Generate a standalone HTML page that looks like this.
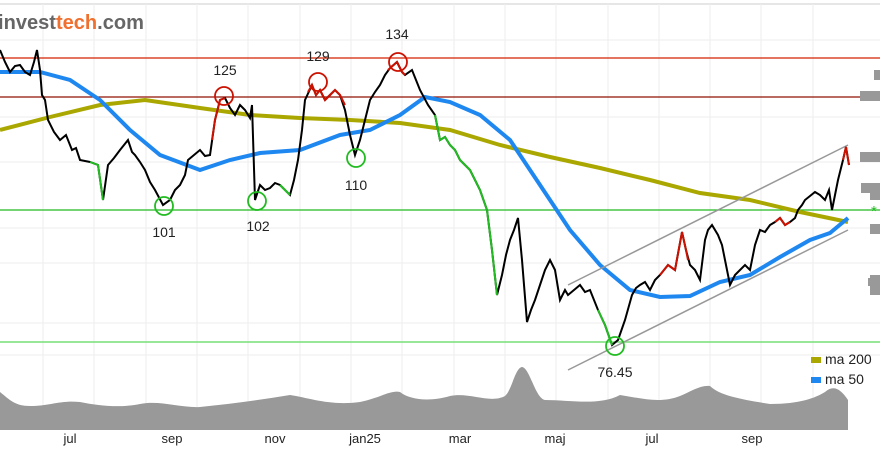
<!DOCTYPE html><html><head><style>body{margin:0;background:#fff}svg{display:block;font-family:"Liberation Sans",sans-serif}</style></head><body>
<svg width="880" height="453" viewBox="0 0 880 453">
<rect width="880" height="453" fill="#fff"/>
<line x1="0" y1="4" x2="880" y2="4" stroke="#ccc"/>
<g stroke="#eee" stroke-width="1">
<path d="M43 4V430M94 4V430M146 4V430M197 4V430M248 4V430M300 4V430M351 4V430M402 4V430M454 4V430M505 4V430M556 4V430M608 4V430M659 4V430M710 4V430M761 4V430M813 4V430"/>
<path d="M0 40H880M0 117H880M0 162H880M0 228H880M0 263H880M0 323H880M0 355H880"/>
</g>
<text x="-2" y="29" font-size="20" font-weight="bold" fill="#666" textLength="146" lengthAdjust="spacingAndGlyphs">invest<tspan fill="#f07030">tech</tspan>.com</text>
<line x1="0" y1="58" x2="880" y2="58" stroke="#d42000" stroke-width="1.2"/>
<line x1="0" y1="97" x2="880" y2="97" stroke="#901000" stroke-width="1.2"/>
<line x1="0" y1="210" x2="880" y2="210" stroke="#22bb22" stroke-width="1.2"/>
<line x1="0" y1="342" x2="880" y2="342" stroke="#77dd77" stroke-width="1.5"/>
<path d="M0 392 C10 400 15 406 30 406 C50 406 60 400 80 402 C100 406 120 408 140 404 C160 400 180 408 200 407 C230 404 260 400 290 395 C310 398 330 406 360 402 C380 398 390 390 400 392 C410 400 430 402 450 396 C470 392 490 404 505 396 C512 390 515 368 522 367 C530 368 535 398 545 400 C570 400 600 406 620 395 C640 398 660 404 680 396 C690 392 700 385 710 386 C720 396 745 400 770 404 C800 404 815 398 825 392 C833 385 840 388 848 400 L848 430 L0 430Z" fill="#999"/>
<g fill="#999"><rect x="874" y="70" width="6" height="10"/><rect x="860" y="91" width="20" height="10"/><rect x="860" y="152" width="20" height="10"/><rect x="861" y="183" width="19" height="10"/><rect x="870" y="193" width="10" height="7"/><rect x="870" y="224" width="10" height="10"/><rect x="870" y="275" width="10" height="20"/><rect x="868" y="278" width="12" height="8"/></g>
<text x="871" y="216" font-size="15" fill="#22bb22">*</text>
<polyline fill="none" stroke="#aaa800" stroke-width="4" points="0,130 50,117 100,105 145,100 200,108 250,115 300,118 350,120 400,123 450,130 500,145 550,157 600,168 650,180 700,193 750,200 800,212 848,222"/>
<polyline fill="none" stroke="#1e88f0" stroke-width="4" points="0,72 40,72 70,80 100,100 130,130 160,155 200,170 230,160 260,153 300,150 340,135 370,130 400,115 425,97 450,102 480,115 510,140 540,185 570,230 600,265 630,290 660,297 690,296 720,282 750,275 780,257 810,240 830,233 848,218"/>
<g stroke="#999" stroke-width="1.5"><line x1="568" y1="285" x2="848" y2="145"/><line x1="568" y1="370" x2="848" y2="230"/></g>
<polyline fill="none" stroke="#000" stroke-width="2" points="0,50 5,62 10,72 15,66 20,65 25,72 30,75 34,62 37,50 40,70 42,95 45,100 48,120 54,132 60,140 66,135 72,150 76,148 80,160 90,162 98,165 103,200 108,165 114,158 120,150 124,145 128,140 132,152 135,155 140,162 145,170 150,182 155,190 163,205 170,200 175,190 180,185 185,175 188,160 194,155 200,150 205,156 210,155 215,120 220,100 225,98 230,108 235,115 240,105 245,110 250,118 252,105 255,200 260,185 265,190 270,188 275,183 280,185 290,195 294,180 298,160 302,130 305,100 312,85 316,95 320,90 325,100 330,95 335,90 340,95 345,110 350,135 355,155 360,140 365,120 370,100 375,92 380,85 385,75 390,68 397,62 402,72 405,75 412,70 416,80 420,90 428,105 435,115 440,140 445,137 450,145 455,150 460,160 465,165 470,170 475,180 480,190 487,210 492,250 497,295 502,275 506,255 510,240 514,230 518,218 522,260 527,322 531,310 535,300 540,285 545,270 550,260 555,270 560,300 565,290 568,295 574,290 580,285 585,292 590,290 598,310 605,325 612,345 618,340 625,320 632,295 636,288 640,285 645,282 650,290 655,280 660,275 668,265 675,270 682,232 686,250 690,265 695,270 700,280 705,240 708,230 712,225 718,235 722,245 725,260 730,285 735,275 740,270 745,265 750,270 755,245 760,230 765,232 770,225 775,222 780,218 785,225 790,222 795,218 798,210 802,205 805,200 810,196 815,192 820,195 825,200 829,190 832,210 835,195 838,180 843,160 846,147 849,165"/>
<g fill="none" stroke-width="2">
<polyline stroke="#22bb22" points="90,162 98,165 103,200"/>
<polyline stroke="#22bb22" points="280,185 290,195"/>
<polyline stroke="#22bb22" points="435,115 440,140 445,137 450,145 455,150 460,160 465,165 470,170 475,180 480,190 487,210 492,250 497,295"/>
<polyline stroke="#22bb22" points="598,310 605,325 612,345"/>
<polyline stroke="#cc1100" points="212,140 215,120 220,100 225,98"/>
<polyline stroke="#cc1100" points="308,92 312,85 316,95 320,90 325,100 330,95 335,90 340,95 345,105"/>
<polyline stroke="#cc1100" points="388,70 397,62 402,72 405,75"/>
<polyline stroke="#cc1100" points="660,275 668,265 675,270 682,232 686,250 688,260"/>
<polyline stroke="#cc1100" points="775,222 780,218 785,225 790,222"/>
<polyline stroke="#cc1100" points="843,160 846,147 849,165"/>
</g>
<g fill="none" stroke-width="1.8">
<circle cx="224" cy="96" r="9" stroke="#cc1100"/><circle cx="318" cy="82" r="9" stroke="#cc1100"/><circle cx="398" cy="62" r="9" stroke="#cc1100"/>
<circle cx="164" cy="206" r="9" stroke="#22bb22"/><circle cx="257" cy="201" r="9" stroke="#22bb22"/><circle cx="356" cy="158" r="9" stroke="#22bb22"/><circle cx="615" cy="346" r="9" stroke="#22bb22"/>
</g>
<g font-size="14" fill="#222" text-anchor="middle">
<text x="225" y="75">125</text><text x="318" y="61">129</text><text x="397" y="39">134</text>
<text x="164" y="237">101</text><text x="258" y="231">102</text><text x="356" y="190">110</text><text x="615" y="377">76.45</text>
</g>
<rect x="811" y="357" width="10" height="6" fill="#aaa800"/><rect x="811" y="377" width="10" height="6" fill="#1e88f0"/>
<g font-size="14" fill="#222" xml:space="preserve"><text x="825" y="364">ma  200</text><text x="825" y="384">ma  50</text></g>
<g font-size="13" fill="#222" text-anchor="middle">
<text x="70" y="443">jul</text><text x="172" y="443">sep</text><text x="275" y="443">nov</text><text x="365" y="443">jan25</text><text x="460" y="443">mar</text><text x="555" y="443">maj</text><text x="652" y="443">jul</text><text x="752" y="443">sep</text>
</g>
</svg></body></html>
